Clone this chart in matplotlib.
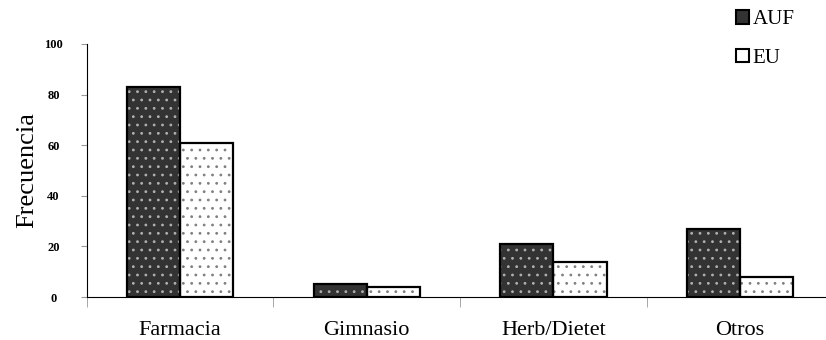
import matplotlib.pyplot as plt
from matplotlib.patches import Patch
import numpy as np

plt.rcParams['font.family'] = ['Liberation Serif', 'DejaVu Serif']
plt.rcParams['hatch.linewidth'] = 0.8

categories = ["Farmacia", "Gimnasio", "Herb/Dietet", "Otros"]
auf = [83, 5, 21, 27]
eu = [61, 4, 14, 8]

x = np.arange(len(categories))
w = 0.285

fig = plt.figure(figsize=(8.26, 3.4), dpi=100)
ax = fig.add_axes([0.105, 0.126, 0.895, 0.745])

# fill + dotted pattern, then black outline on top
ax.bar(x - w/2, auf, w, color="#333333", edgecolor="#b0b0b0", hatch="..", linewidth=0)
ax.bar(x + w/2, eu, w, color="white", edgecolor="#808080", hatch="..", linewidth=0)
ax.bar(x - w/2, auf, w, fill=False, edgecolor="black", linewidth=1.6)
ax.bar(x + w/2, eu, w, fill=False, edgecolor="black", linewidth=1.6)

ax.set_xlim(-0.5, 3.46)
ax.set_ylim(0, 100)
ax.set_yticks([0, 20, 40, 60, 80, 100])
ax.set_yticklabels(["0", "20", "40", "60", "80", "100"], fontsize=9, fontweight="bold")
ax.set_xticks(x)
ax.set_xticklabels(categories, fontsize=16)
ax.tick_params(axis="x", which="major", length=0, pad=17)
ax.set_xticks(np.arange(-0.5, 3.5, 1.0), minor=True)
ax.tick_params(axis="x", which="minor", length=7, color="#999999")
ax.tick_params(axis="y", length=4, color="#999999", pad=20)
for lab in ax.get_yticklabels():
    lab.set_horizontalalignment("center")

ax.set_ylabel("Frecuencia", fontsize=19, labelpad=4)

for s in ["top", "right"]:
    ax.spines[s].set_visible(False)
ax.spines["left"].set_linewidth(0.8)
ax.spines["bottom"].set_linewidth(0.8)

handles = [Patch(facecolor="#333333", edgecolor="black", linewidth=1.5),
           Patch(facecolor="white", edgecolor="black", linewidth=1.5)]
fig.legend(handles, ["AUF", "EU"], loc="upper right", bbox_to_anchor=(0.985, 1.025),
           frameon=False, fontsize=15, handlelength=0.6, handleheight=0.6,
           handletextpad=0.2, labelspacing=0.95)

fig.savefig("out.png", dpi=100)
